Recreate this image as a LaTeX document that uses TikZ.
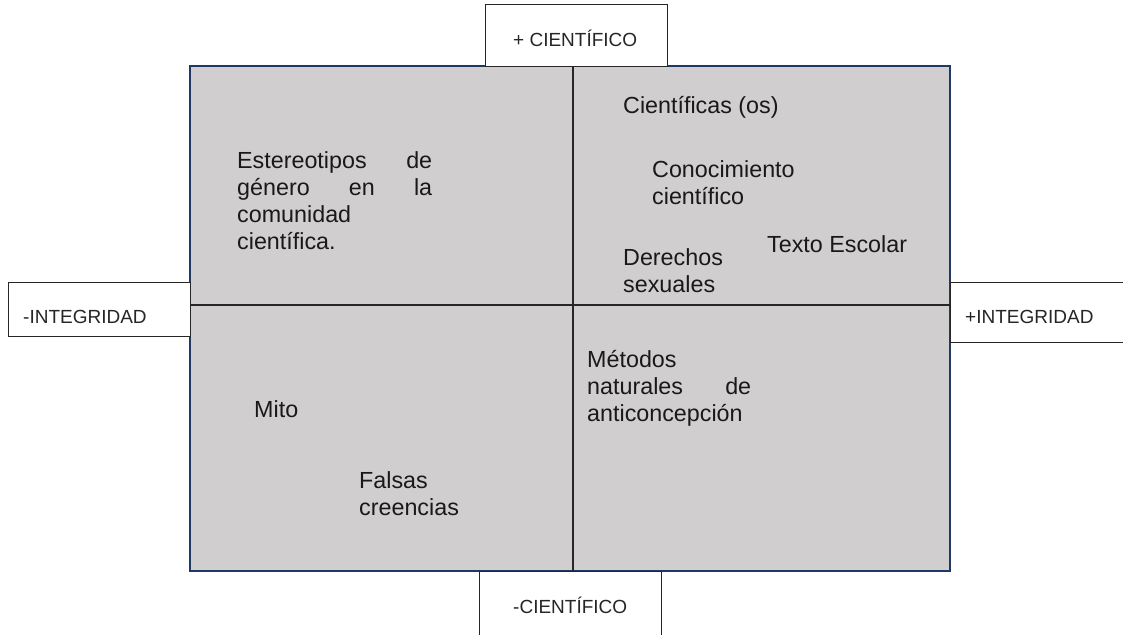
\documentclass[tikz,border=0pt]{standalone}
\usepackage{fontspec}
\setmainfont{Liberation Sans}
\definecolor{quadfill}{HTML}{D0CECE}
\definecolor{navyline}{HTML}{203864}
\definecolor{boxline}{HTML}{262626}
\begin{document}
\begin{tikzpicture}[x=1pt,y=-1pt,
  quad/.style={fill=quadfill,draw=navyline,line width=2.6pt},
  divider/.style={draw=black!85,line width=2pt},
  axisbox/.style={fill=white,draw=boxline,line width=1pt},
  axislabel/.style={anchor=base west,inner sep=0pt,font=\fontsize{19}{22}\selectfont,text=black!85},
  item/.style={anchor=base west,inner sep=0pt,align=left,font=\fontsize{23.3}{27}\selectfont,text=black!90}]
\useasboundingbox (0,0) rectangle (1123,634);
\clip (0,0) rectangle (1123,634);
% main quadrant area
\path[quad] (190,66) rectangle (950,571);
\coordinate (vtop) at (573,66);
\coordinate (vbot) at (573,571);
\coordinate (hleft) at (190,305);
\coordinate (hright) at (950,305);
\draw[divider] (vtop) -- (vbot);
\draw[divider] (hleft) -- (hright);
% axis boxes
\path[axisbox] (485,5) rectangle (667,66);
\path[axisbox] (8,282) rectangle (190,336);
\path[axisbox] (950,282) rectangle (1135,342);
\path[axisbox] (479,571) rectangle (661,645);
\node[axislabel] (cplus) at (513,46) {+ CIENTÍFICO};
\node[axislabel] (cminus) at (513,613) {-CIENTÍFICO};
\node[axislabel] (iminus) at (23,323) {-INTEGRIDAD};
\node[axislabel] (iplus) at (965,323) {+INTEGRIDAD};
% items
\node[item,text width=195pt] (estereo) at (237,168)
  {Estereotipos\hfill de\\género\hfill en\hfill la\\comunidad\\científica.};
\node[item] (cientificas) at (623,113) {Científicas (os)};
\node[item,text width=160pt] (conoc) at (652,177) {Conocimiento\\científico};
\node[item] (texto) at (767,252) {Texto Escolar};
\node[item,text width=120pt] (derechos) at (623,265) {Derechos\\sexuales};
\node[item] (mito) at (254,417) {Mito};
\node[item,text width=120pt] (falsas) at (359,488) {Falsas\\creencias};
\node[item,text width=164pt] (metodos) at (587,367)
  {Métodos\\naturales\hfill de\\anticoncepción};
\end{tikzpicture}
\end{document}
